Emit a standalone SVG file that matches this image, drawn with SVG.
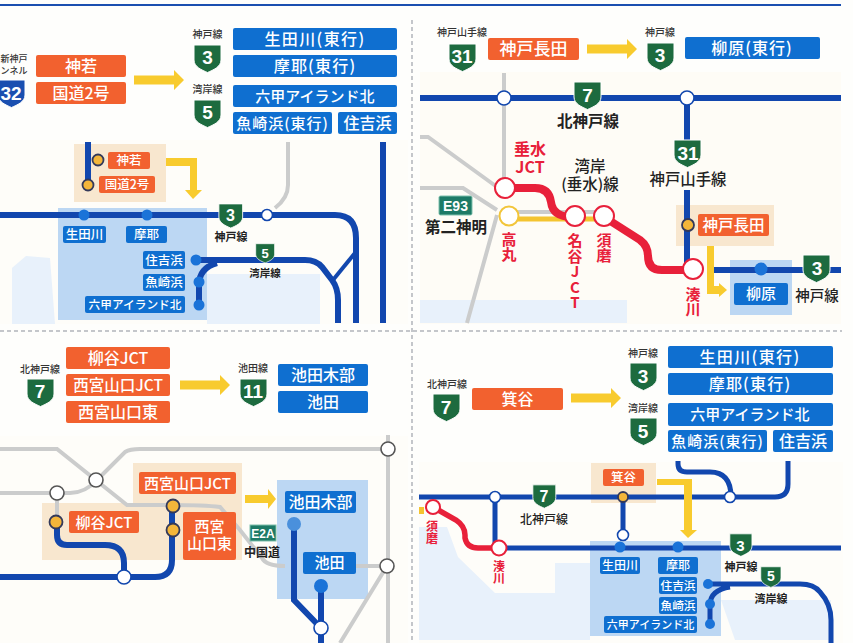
<svg xmlns="http://www.w3.org/2000/svg" width="853" height="643" viewBox="0 0 853 643">
<style>
text{font-family:"Noto Sans CJK JP","Liberation Sans",sans-serif;text-anchor:middle}
.o{fill:#f2612f}.b{fill:#0f6fd0}
.w{fill:#fff;font-weight:500}
.k{fill:#222;font-weight:700}
.s{fill:#333;font-size:10px;font-weight:500}
.r{fill:#e8203a;font-weight:700}
.v{writing-mode:vertical-rl;text-orientation:upright;text-anchor:start}
.n{fill:#fff;font-family:"Liberation Sans",sans-serif;font-weight:700}
.l{fill:none;stroke:#1247ae;stroke-width:6}
.g{fill:none;stroke:#cbcccc;stroke-width:4}
.rd{fill:none;stroke:#e8203a;stroke-width:8}
.y{fill:#f8cb2e}
.wc{fill:#fff;stroke:#1247ae;stroke-width:1.6}
.yc{fill:#f4b63a;stroke:#33395a;stroke-width:1.8}
.bc{fill:#1a73d8}
.rc{fill:#fff;stroke:#e8203a;stroke-width:2}
.sg{fill:#1d6b3f;stroke:#fff;stroke-width:1}
.bx{fill:#bcd7f3}.be{fill:#f8e7cf}.se{fill:#e8f1fb}
.d{stroke:#8a8f99;stroke-width:1;stroke-dasharray:4 3;fill:none}
</style>
<defs>
<path id="sh" d="M1 1H28V16C28 23 20 26 14.500 28.500C9 26 1 23 1 16Z"/>
<path id="ar" d="M0-4.500H40V-10L50 0 40 10V4.500H0Z"/>
</defs>
<rect width="853" height="643" fill="#fefefc"/>
<g id="map-backgrounds">
<rect x="0" y="140" width="408" height="184" fill="#fefdf9"/>
<rect x="420" y="72" width="421" height="252" fill="#fefcf6"/>
<rect x="0" y="436" width="408" height="207" fill="#fefdf9"/>
<rect x="419" y="462" width="424" height="181" fill="#fefdf9"/>
<path class="se" d="M12 324V268L26 256 50 258 55 324Z"/>
<rect class="se" x="207" y="274" width="113" height="50"/>
<path class="se" d="M420 323V300H627V323Z"/>
<path class="se" d="M419 527H447L458 557 495 593H555V563H590V640H419Z"/>
<path class="se" d="M721 600H831V640H735Z"/>
<rect class="bx" x="58" y="208" width="149" height="112"/>
<rect class="be" x="74" y="144" width="92" height="58"/>
<rect class="be" x="676" y="205" width="98" height="41"/>
<rect class="bx" x="730" y="260" width="62" height="55"/>
<path class="be" d="M42 503H133V463H242V560H42Z"/>
<rect class="bx" x="277" y="480" width="91" height="119"/>
<rect class="be" x="591" y="463" width="65" height="40"/>
<rect class="bx" x="590" y="541" width="131" height="95"/>
</g>
<g id="frame">
<path d="M0 5H841" fill="none" stroke="#1a4fb0" stroke-width="2"/>
<path class="d" d="M412 20V643M0 331H842"/>
</g>
<g id="connectors">
<path class="g" d="M288 142V185Q288 198 275 208"/>
<path class="g" d="M504 73V186M420 137H428L497 187M420 188H463L497 210M497 215L467 323M510 212H604"/>
<path class="g" d="M0 449H57L127 505H170Q205 505 220 507L240 530 262 558Q266 566 285 566M97 480L125 452Q130 449 140 449H388M0 493H70Q85 493 97 480M57 493V521M388 435V643M355 566H387M387 566L340 643"/>
<path class="l" d="M88 142V185M0 215H335Q356 215 356 238V323M383 142V323"/>
<path class="l" d="M196 260H305Q316 260 322 267L332 280Q338 288 338 300V323M199 305V285Q199 268 217 263"/>
<path class="l" style="stroke-width:4" d="M333 280L355 253"/>
<path class="l" d="M420 98H841M687 98V142M687 190V265M709 270H841"/>
<path d="M508 219H605" fill="none" stroke="#f4c430" stroke-width="5"/>
<path class="rd" d="M505 188H535Q549 188 551 202Q553 218 575 217"/>
<path class="rd" d="M604 217L640 240Q648 246 648 256Q648 270 662 270H693"/>
<path class="l" d="M57 522V535Q57 545 67 545H105Q124 545 124 563V577M0 577H155Q172 577 172 560V506"/>
<path class="l" d="M294 524V600L321 628M321 586V643"/>
<path class="l" style="stroke-width:5" d="M419 497H775Q788 497 788 484V461M678 461V464Q678 472 687 472H710Q731 472 731 497M495 497V548M623 497V535M498 548H841"/>
<path class="l" style="stroke-width:5" d="M708 584H800Q814 584 820 592Q831 604 831 620V643M710 624V605Q710 590 730 587"/>
<path class="rd" style="stroke-width:5.500" d="M433 507L456 520Q465 526 465 535V538Q467 548 478 548H499"/>
<rect x="419" y="507" width="5" height="7" fill="#f4c430"/>
</g>
<g id="yellow-arrows">
<use class="y" href="#ar" x="134" y="80"/>
<path class="y" d="M166 158H197V190H202L193 199 185 190H190V166H166Z"/>
<use class="y" href="#ar" x="587" y="49"/>
<path class="y" d="M707 246H714V286H719V283L727 290 719 297V294H707Z"/>
<use class="y" href="#ar" x="180" y="385"/>
<path class="y" d="M245 495H268V489L276 499 268 509V503H245Z"/>
<use class="y" href="#ar" x="571" y="398"/>
<path class="y" d="M657 479H692V530H697L688 538 680 530H684V485H657Z"/>
</g>
<g id="panel1-origin">
<text class="s" x="14" y="62" style="font-size:9px">新神戸</text>
<text class="s" x="14" y="74" style="font-size:9px">ンネル</text>
<use href="#sh" transform="translate(-3 79)" fill="#1a4fb0" stroke="#fff"/>
<text class="n" x="11" y="100" font-size="19">32</text>
<rect class="o" x="36" y="55" width="90" height="22" rx="2"/><text class="w" x="81" y="71.500" font-size="16">神若</text>
<rect class="o" x="36" y="82" width="90" height="22" rx="2"/><text class="w" x="81" y="98.500" font-size="16">国道2号</text>
</g>
<g id="panel1-dest">
<text class="s" x="207.500" y="38">神戸線</text>
<use class="sg" href="#sh" x="193" y="44"/><text class="n" x="207.500" y="64" font-size="19">3</text>
<text class="s" x="207.500" y="93">湾岸線</text>
<use class="sg" href="#sh" x="193" y="99"/><text class="n" x="207.500" y="119" font-size="19">5</text>
<rect class="b" x="233" y="28" width="164" height="22" rx="2"/><text class="w" x="315" y="44.500" font-size="16" letter-spacing="1.400">生田川(東行)</text>
<rect class="b" x="233" y="55" width="164" height="22" rx="2"/><text class="w" x="315" y="71.500" font-size="16" letter-spacing="1.200">摩耶(東行)</text>
<rect class="b" x="233" y="85" width="164" height="22" rx="2"/><text class="w" x="315" y="101.500" font-size="15">六甲アイランド北</text>
<rect class="b" x="233" y="112" width="99" height="22" rx="2"/><text class="w" x="282.500" y="128.500" font-size="15" letter-spacing="1">魚崎浜(東行)</text>
<rect class="b" x="338" y="112" width="59" height="22" rx="2"/><text class="w" x="367.500" y="128.500" font-size="16">住吉浜</text>
</g>
<g id="panel1-map">
<circle class="yc" cx="98" cy="160" r="5.500"/><circle class="yc" cx="88" cy="185" r="5.500"/>
<rect class="o" x="108" y="152" width="42" height="17" rx="2"/><text class="w" x="129" y="165" font-size="12.500">神若</text>
<rect class="o" x="99" y="176" width="56" height="17" rx="2"/><text class="w" x="127" y="189" font-size="12.500">国道2号</text>
<circle class="bc" cx="84" cy="215" r="5.500"/><circle class="bc" cx="147" cy="215" r="5.500"/>
<circle class="wc" cx="267" cy="215" r="5.500"/>
<use class="sg" href="#sh" transform="translate(218 203) scale(.88)"/><text class="n" x="230.500" y="221" font-size="16">3</text>
<text class="k" x="231" y="241" font-size="11">神戸線</text>
<use class="sg" href="#sh" transform="translate(255 243) scale(.7)"/><text class="n" x="265" y="258" font-size="13">5</text>
<text class="k" x="265" y="277" font-size="10.500">湾岸線</text>
<circle class="bc" cx="196" cy="260" r="5.500"/><circle class="bc" cx="199" cy="282" r="5.500"/><circle class="bc" cx="199" cy="305" r="5.500"/>
<rect class="b" x="63" y="226" width="43" height="17" rx="2"/><text class="w" x="84.500" y="239" font-size="12.500">生田川</text>
<rect class="b" x="126" y="226" width="41" height="17" rx="2"/><text class="w" x="146.500" y="239" font-size="12.500">摩耶</text>
<rect class="b" x="143" y="251" width="42" height="18" rx="2"/><text class="w" x="164" y="265" font-size="12.500">住吉浜</text>
<rect class="b" x="143" y="274" width="42" height="17" rx="2"/><text class="w" x="164" y="287" font-size="12.500">魚崎浜</text>
<rect class="b" x="85" y="296" width="100" height="17" rx="2"/><text class="w" x="135" y="309" font-size="11.700">六甲アイランド北</text>
</g>
<g id="panel2-head">
<text class="s" x="462" y="36">神戸山手線</text>
<use class="sg" href="#sh" x="448" y="43"/><text class="n" x="462" y="63" font-size="19">31</text>
<rect class="o" x="488" y="38" width="91" height="22" rx="2"/><text class="w" x="533.500" y="54.500" font-size="17">神戸長田</text>
<text class="s" x="660" y="36">神戸線</text>
<use class="sg" href="#sh" x="646" y="42"/><text class="n" x="660" y="62" font-size="19">3</text>
<rect class="b" x="685" y="37" width="135" height="22" rx="2"/><text class="w" x="752" y="53.500" font-size="16" letter-spacing="1">柳原(東行)</text>
</g>
<g id="panel2-map">
<circle class="wc" cx="504" cy="98" r="7"/><circle class="wc" cx="687" cy="98" r="7"/>
<use class="sg" href="#sh" transform="translate(573 81)"/><text class="n" x="587.500" y="102" font-size="19">7</text>
<text class="k" x="588" y="127" font-size="15.500">北神戸線</text>
<text class="r" font-size="16"><tspan x="530" y="155">垂水</tspan><tspan x="530" y="173">JCT</tspan></text>
<text class="k" font-size="15.500" style="font-weight:500"><tspan x="590" y="172">湾岸</tspan><tspan x="590" y="190">(垂水)線</tspan></text>
<rect x="439" y="196" width="33" height="19" rx="1.500" fill="#1d7a66" stroke="#7fc0ac"/><text class="n" x="455.500" y="211" font-size="14">E93</text>
<text class="k" x="456" y="233" font-size="15.500">第二神明</text>
<circle cx="509" cy="216" r="9.500" fill="#fff" stroke="#f2c53a" stroke-width="2"/>
<circle class="rc" cx="505" cy="188" r="10"/><circle class="rc" cx="575" cy="216" r="10"/><circle class="rc" cx="604" cy="216" r="10"/><circle class="rc" cx="693" cy="269" r="10"/>
<text class="r v" x="509" y="232" font-size="15">高丸</text>
<text class="r v" x="575" y="233" font-size="15" letter-spacing=".5">名谷JCT</text>
<text class="r v" x="604" y="233" font-size="15">須磨</text>
<text class="r v" x="693" y="287" font-size="15">湊川</text>
<use class="sg" href="#sh" transform="translate(673 139)"/><text class="n" x="688" y="160" font-size="19">31</text>
<text class="k" x="688" y="185" font-size="15.400" style="font-weight:500">神戸山手線</text>
<circle class="yc" cx="688" cy="225" r="6"/>
<rect class="o" x="698" y="214" width="71" height="22" rx="2"/><text class="w" x="733.500" y="230.500" font-size="15.500">神戸長田</text>
<circle class="bc" cx="761" cy="269" r="6.500"/>
<use class="sg" href="#sh" transform="translate(802 254)"/><text class="n" x="817" y="275" font-size="19">3</text>
<rect class="b" x="734" y="283" width="54" height="22" rx="2"/><text class="w" x="761" y="299" font-size="15">柳原</text>
<text class="k" x="817" y="301" font-size="14.500" style="font-weight:500">神戸線</text>
</g>
<g id="panel3-head">
<text class="s" x="40" y="373">北神戸線</text>
<use class="sg" href="#sh" x="26" y="378"/><text class="n" x="40" y="398" font-size="19">7</text>
<rect class="o" x="66" y="347" width="104" height="22" rx="2"/><text class="w" x="118" y="363.500" font-size="16">柳谷JCT</text>
<rect class="o" x="66" y="374" width="104" height="22" rx="2"/><text class="w" x="118" y="390.500" font-size="15.500">西宮山口JCT</text>
<rect class="o" x="66" y="401" width="104" height="22" rx="2"/><text class="w" x="118" y="417.500" font-size="16">西宮山口東</text>
<text class="s" x="253" y="372">池田線</text>
<use class="sg" href="#sh" x="239" y="378"/><text class="n" x="253" y="398" font-size="19">11</text>
<rect class="b" x="278" y="364" width="90" height="22" rx="2"/><text class="w" x="323" y="380.500" font-size="16">池田木部</text>
<rect class="b" x="278" y="391" width="90" height="22" rx="2"/><text class="w" x="323" y="407.500" font-size="16">池田</text>
</g>
<g id="panel3-map">
<circle class="wc" cx="388" cy="449" r="7" style="stroke:#555"/><circle class="wc" cx="387" cy="566" r="7" style="stroke:#555"/>
<circle class="wc" cx="96" cy="480" r="7" style="stroke:#555"/><circle class="wc" cx="57" cy="493" r="7" style="stroke:#555"/>
<circle class="yc" cx="56" cy="522" r="6.500"/><circle class="yc" cx="173" cy="506" r="6.500"/><circle class="yc" cx="173" cy="530" r="6.500"/>
<circle class="wc" cx="124" cy="577" r="7"/><circle class="wc" cx="321" cy="628" r="7"/>
<rect class="o" x="139" y="472" width="97" height="22" rx="2"/><text class="w" x="187.500" y="488.500" font-size="15">西宮山口JCT</text>
<rect class="o" x="69" y="511" width="70" height="22" rx="2"/><text class="w" x="104" y="527.500" font-size="15">柳谷JCT</text>
<rect class="o" x="183" y="512" width="53" height="48" rx="2"/><text class="w" font-size="15"><tspan x="209.500" y="532">西宮</tspan><tspan x="209.500" y="549">山口東</tspan></text>
<rect x="250" y="525" width="26" height="16" fill="#1d7a66" stroke="#7fc0ac"/><text class="n" x="263" y="538" font-size="12">E2A</text>
<text class="k" x="262" y="557" font-size="12">中国道</text>
<rect class="b" x="285" y="491" width="71" height="22" rx="2"/><text class="w" x="320.500" y="507.500" font-size="16">池田木部</text>
<rect class="b" x="303" y="552" width="53" height="22" rx="2"/><text class="w" x="329.500" y="568" font-size="15">池田</text>
<circle cx="294" cy="524" r="7" fill="#4a90dc"/><circle class="bc" cx="321" cy="586" r="7"/>
</g>
<g id="panel4-head">
<text class="s" x="447" y="388">北神戸線</text>
<use class="sg" href="#sh" x="432" y="393"/><text class="n" x="446" y="414" font-size="19">7</text>
<rect class="o" x="472" y="388" width="91" height="22" rx="2"/><text class="w" x="517.500" y="404.500" font-size="16">箕谷</text>
<text class="s" x="643" y="357">神戸線</text>
<use class="sg" href="#sh" x="629" y="362"/><text class="n" x="643" y="383" font-size="19">3</text>
<text class="s" x="643" y="412">湾岸線</text>
<use class="sg" href="#sh" x="629" y="417"/><text class="n" x="643" y="438" font-size="19">5</text>
<rect class="b" x="668" y="346" width="165" height="22" rx="2"/><text class="w" x="750" y="362.500" font-size="16" letter-spacing="1.400">生田川(東行)</text>
<rect class="b" x="668" y="373" width="165" height="22" rx="2"/><text class="w" x="750" y="389.500" font-size="16" letter-spacing="1.200">摩耶(東行)</text>
<rect class="b" x="668" y="403" width="165" height="23" rx="2"/><text class="w" x="750" y="420" font-size="15">六甲アイランド北</text>
<rect class="b" x="668" y="430" width="99" height="22" rx="2"/><text class="w" x="717.500" y="446.500" font-size="15" letter-spacing="1">魚崎浜(東行)</text>
<rect class="b" x="773" y="430" width="60" height="22" rx="2"/><text class="w" x="803" y="446.500" font-size="16">住吉浜</text>
</g>
<g id="panel4-map">
<rect class="o" x="603" y="469" width="41" height="17" rx="2"/><text class="w" x="623.500" y="482" font-size="12.500">箕谷</text>
<circle class="wc" cx="495" cy="497" r="5.500"/><circle class="wc" cx="730" cy="497" r="5.500"/>
<circle class="yc" cx="623" cy="497" r="5"/><circle class="wc" cx="623" cy="535" r="5.500"/>
<use class="sg" href="#sh" transform="translate(532 484) scale(.85)"/><text class="n" x="544" y="502" font-size="16">7</text>
<text class="k" x="544" y="524" font-size="12" style="font-weight:500">北神戸線</text>
<circle class="bc" cx="620" cy="547" r="5.500"/><circle class="bc" cx="678" cy="547" r="5.500"/>
<use class="sg" href="#sh" transform="translate(729 533) scale(.82)"/><text class="n" x="740.500" y="551" font-size="15">3</text>
<text class="k" x="741" y="571" font-size="11">神戸線</text>
<use class="sg" href="#sh" transform="translate(760 566) scale(.75)"/><text class="n" x="771" y="581" font-size="14">5</text>
<text class="k" x="771" y="603" font-size="11">湾岸線</text>
<circle class="bc" cx="708" cy="584" r="5"/><circle class="bc" cx="710" cy="604" r="5"/><circle class="bc" cx="710" cy="624" r="5"/>
<circle class="rc" cx="433" cy="507" r="7"/><circle class="rc" cx="499" cy="548" r="7.500"/>
<text class="r v" x="432" y="520" font-size="12">須磨</text>
<text class="r v" x="499" y="560" font-size="12">湊川</text>
<rect class="b" x="600" y="557" width="40" height="17" rx="2"/><text class="w" x="620" y="570" font-size="12">生田川</text>
<rect class="b" x="658" y="557" width="40" height="17" rx="2"/><text class="w" x="678" y="570" font-size="12">摩耶</text>
<rect class="b" x="659" y="577" width="38" height="17" rx="2"/><text class="w" x="678" y="590" font-size="11.700">住吉浜</text>
<rect class="b" x="659" y="597" width="38" height="17" rx="2"/><text class="w" x="678" y="610" font-size="11.700">魚崎浜</text>
<rect class="b" x="604" y="616" width="93" height="17" rx="2"/><text class="w" x="650.500" y="629" font-size="11">六甲アイランド北</text>
</g>
</svg>
